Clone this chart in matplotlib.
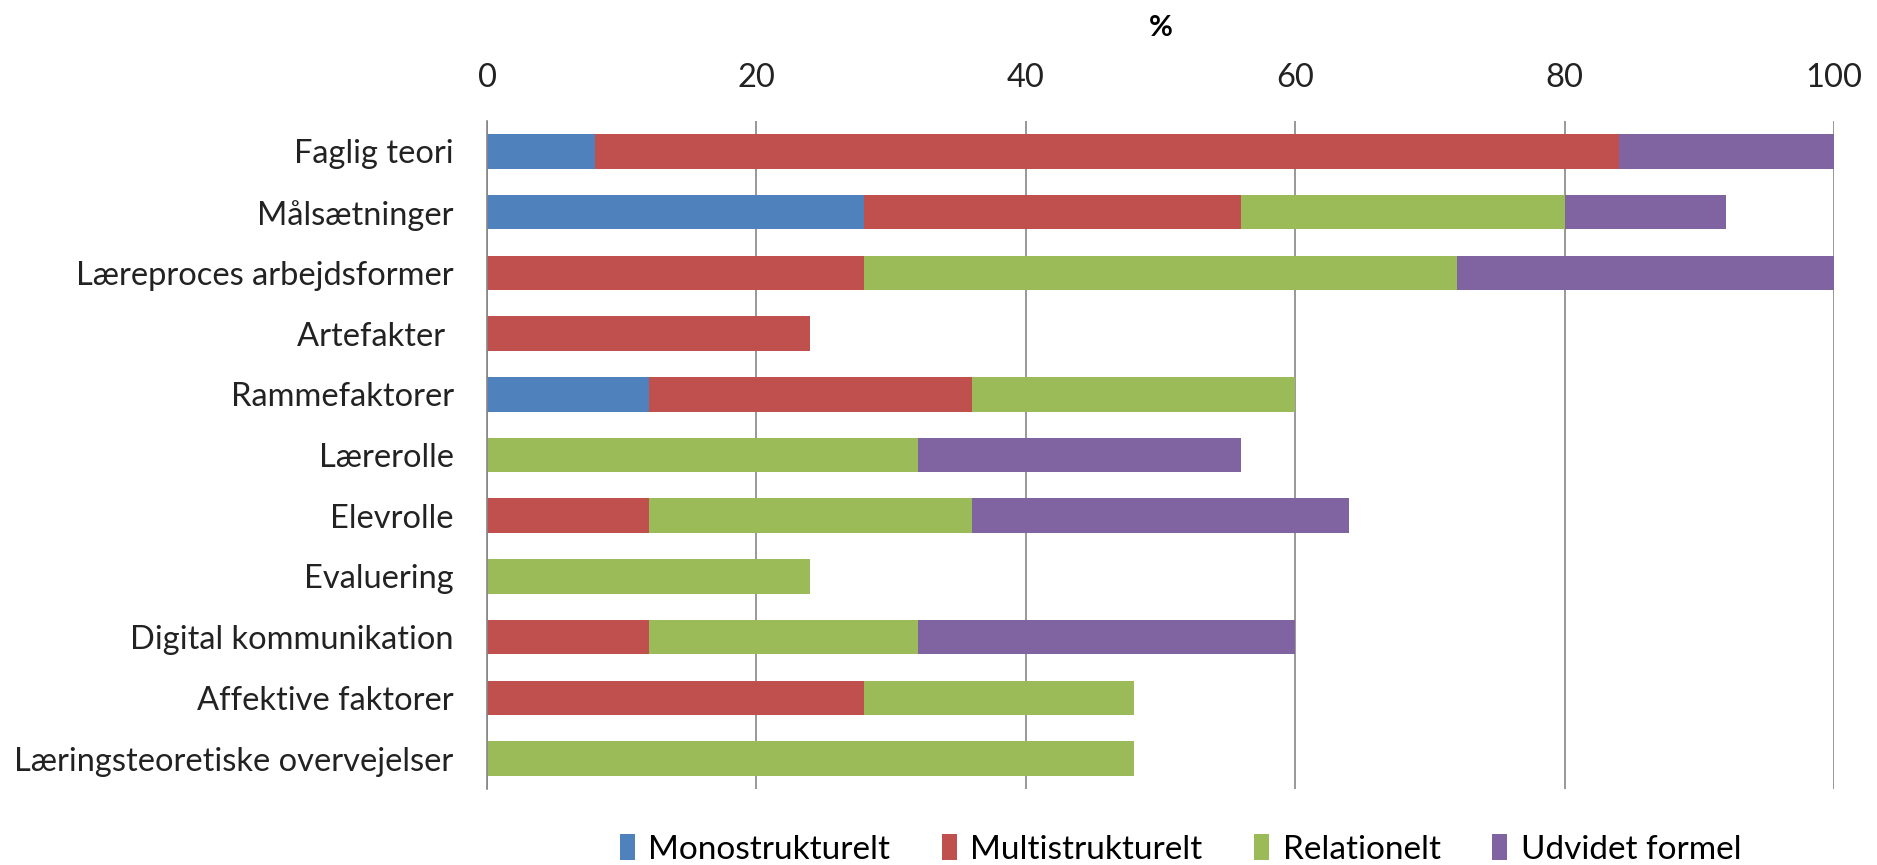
import numpy as np
import matplotlib.pyplot as plt

plt.rcParams['font.family'] = ['Lato', 'DejaVu Sans']

categories = ['Faglig teori', 'Målsætninger', 'Læreproces arbejdsformer', 'Artefakter ',
              'Rammefaktorer', 'Lærerolle', 'Elevrolle', 'Evaluering',
              'Digital kommunikation', 'Affektive faktorer',
              'Læringsteoretiske overvejelser']
mono = [8, 28, 0, 0, 12, 0, 0, 0, 0, 0, 0]
multi = [76, 28, 28, 24, 24, 0, 12, 0, 12, 28, 0]
relationelt = [0, 24, 44, 0, 24, 32, 24, 24, 20, 20, 48]
udvidet = [16, 12, 28, 0, 0, 24, 28, 0, 28, 0, 0]

series = [('Monostrukturelt', mono, '#4F81BD'),
          ('Multistrukturelt', multi, '#C0504D'),
          ('Relationelt', relationelt, '#9BBB59'),
          ('Udvidet formel', udvidet, '#8064A2')]

fig = plt.figure(figsize=(18.77, 8.65), dpi=100)
ax = fig.add_axes([0.2595, 0.088, 0.7176, 0.772])

y = np.arange(len(categories))
left = np.zeros(len(categories))
for name, vals, col in series:
    vals = np.array(vals, dtype=float)
    ax.barh(y, vals, left=left, height=0.57, color=col, label=name, zorder=2)
    left += vals

ax.set_ylim(len(categories) - 0.5, -0.5)
ax.set_xlim(0, 100)
ax.set_xticks(np.arange(0, 101, 20))
ax.xaxis.tick_top()
ax.xaxis.set_label_position('top')
ax.set_xlabel('%', fontsize=21, fontweight='bold', labelpad=20)
ax.tick_params(axis='x', length=0, labelsize=23.5, pad=20, colors='#222222')
ax.tick_params(axis='y', length=0, labelsize=23.5, pad=24, colors='#222222')
ax.set_yticks(y)
ax.set_yticklabels(categories)

ax.grid(axis='x', color='#868686', linewidth=1.2, zorder=0)
for s in ['top', 'right', 'bottom']:
    ax.spines[s].set_visible(False)
ax.spines['left'].set_color('#868686')
ax.spines['left'].set_linewidth(1.2)

fig.legend(loc='center', bbox_to_anchor=(0.629, 0.018), ncol=4, frameon=False,
           fontsize=24, handlelength=0.45, handleheight=0.8, handletextpad=0.4,
           columnspacing=1.55)

fig.savefig('out.png', dpi=100)
